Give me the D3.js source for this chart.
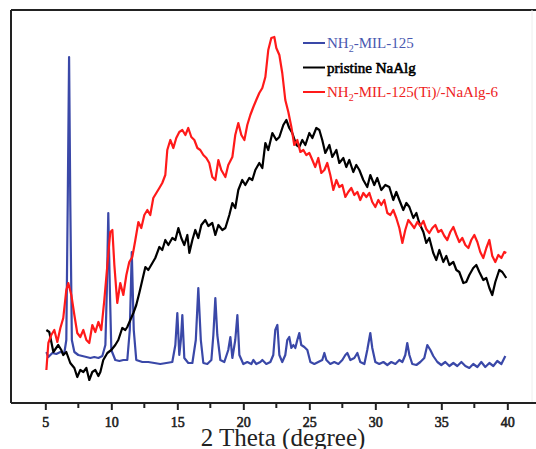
<!DOCTYPE html>
<html>
<head>
<meta charset="utf-8">
<script src="https://cdn.jsdelivr.net/npm/d3@7"></script>
<style>
    body { margin: 0; background: #fff; }
    svg { display: block; }
</style>
</head>
<body>
<div id="chart"></div>
<script>
// 2 theta (degree), intensity (a.u.)
var mil125 = [
    [5.08,51],[5.23,46],[5.53,50],[5.83,49],[6.14,51],[6.44,50],[6.59,63],[6.70,203],[6.80,346],[6.89,203],
    [7.01,63],[7.20,51],[7.50,48],[7.80,47],[8.11,46],[8.41,45],[8.71,46],[9.02,45],[9.32,47],[9.55,58],
    [9.66,113],[9.77,190],[9.89,113],[10.00,53],[10.30,43],[10.61,42],[10.91,43],[11.21,43],[11.40,73],[11.55,151],
    [11.70,73],[11.89,43],[12.35,41],[12.80,41],[13.26,40],[13.71,39],[14.17,40],[14.62,41],[14.85,58],[15.00,90],
    [15.15,48],[15.27,63],[15.38,88],[15.53,45],[15.83,40],[16.14,40],[16.40,63],[16.59,115],[16.78,63],[16.97,40],
    [17.27,39],[17.58,43],[17.73,68],[17.88,105],[18.03,68],[18.26,43],[18.56,41],[18.86,53],[19.02,66],[19.17,45],
    [19.39,63],[19.55,88],[19.70,48],[20.00,39],[20.30,41],[20.61,39],[20.76,43],[20.98,39],[21.29,41],[21.44,43],
    [21.74,39],[22.05,41],[22.27,48],[22.42,73],[22.58,78],[22.73,48],[22.95,41],[23.18,48],[23.33,63],[23.48,66],
    [23.64,55],[23.79,58],[23.94,55],[24.09,63],[24.24,70],[24.39,58],[24.62,56],[24.85,53],[25.08,41],[25.38,39],
    [25.68,41],[25.98,43],[26.14,50],[26.29,43],[26.59,39],[26.89,41],[27.20,39],[27.50,43],[27.73,48],[27.88,50],
    [28.11,43],[28.41,45],[28.64,50],[28.86,41],[29.17,39],[29.39,53],[29.62,70],[29.77,55],[30.00,41],[30.30,39],
    [30.61,41],[30.91,38],[31.21,41],[31.52,39],[31.82,43],[32.05,41],[32.27,48],[32.42,60],[32.58,48],[32.80,39],
    [33.11,38],[33.41,41],[33.71,45],[33.94,58],[34.17,53],[34.39,47],[34.70,41],[35.00,38],[35.30,41],[35.61,37],
    [35.91,40],[36.21,37],[36.52,41],[36.82,37],[37.12,35],[37.42,39],[37.73,36],[38.03,41],[38.33,36],[38.64,40],
    [38.94,37],[39.24,42],[39.55,39],[39.85,47]
];

var naalg = [
    [5.08,73],[5.30,71],[5.61,51],[5.98,58],[6.21,53],[6.36,48],[6.59,51],[6.89,40],[7.20,35],[7.42,26],
    [7.65,33],[7.88,31],[8.11,35],[8.33,23],[8.56,31],[8.79,33],[9.02,27],[9.17,31],[9.39,43],[9.70,50],
    [10.00,53],[10.30,58],[10.53,63],[10.83,75],[11.06,73],[11.21,76],[11.44,83],[11.67,90],[11.89,98],[12.12,110],
    [12.35,123],[12.58,136],[12.80,133],[13.11,140],[13.33,145],[13.64,156],[13.86,153],[14.09,163],[14.32,158],[14.62,165],
    [14.85,163],[15.08,175],[15.30,165],[15.53,158],[15.76,168],[15.91,150],[16.14,163],[16.36,173],[16.59,165],[16.82,178],
    [17.12,183],[17.35,177],[17.65,180],[17.88,168],[18.11,178],[18.41,173],[18.64,175],[18.94,188],[19.17,200],[19.39,195],
    [19.62,213],[19.92,223],[20.15,218],[20.45,225],[20.68,223],[20.91,233],[21.21,240],[21.44,235],[21.67,260],[21.89,253],
    [22.20,270],[22.50,263],[22.73,266],[23.03,278],[23.26,283],[23.48,275],[23.71,270],[24.02,258],[24.24,256],[24.47,263],
    [24.70,258],[25.00,270],[25.23,265],[25.53,275],[25.76,273],[25.98,263],[26.21,250],[26.52,258],[26.74,246],[27.05,253],
    [27.27,240],[27.58,245],[27.80,236],[28.03,243],[28.33,231],[28.56,238],[28.79,233],[29.09,223],[29.39,216],[29.62,228],
    [29.92,218],[30.15,225],[30.45,213],[30.76,218],[31.06,216],[31.36,203],[31.59,211],[31.82,203],[32.12,193],[32.35,200],
    [32.58,196],[32.88,185],[33.11,190],[33.33,180],[33.64,171],[33.86,160],[34.09,165],[34.39,150],[34.62,143],[34.85,153],
    [35.15,141],[35.38,147],[35.61,138],[35.91,141],[36.14,133],[36.36,131],[36.67,120],[36.89,121],[37.12,128],[37.42,135],
    [37.65,138],[37.88,131],[38.18,123],[38.41,125],[38.64,115],[38.86,108],[39.09,121],[39.39,133],[39.62,131],[39.92,125]
];

var composite = [
    [5.08,33],[5.23,60],[5.45,68],[5.68,73],[5.91,61],[6.14,75],[6.36,85],[6.59,113],[6.74,120],[6.97,108],
    [7.20,88],[7.42,70],[7.65,66],[7.88,73],[8.11,63],[8.33,60],[8.56,78],[8.79,71],[9.02,81],[9.24,73],
    [9.47,103],[9.70,138],[9.92,171],[10.08,173],[10.23,138],[10.45,100],[10.68,120],[10.91,108],[11.14,128],[11.36,141],
    [11.59,146],[11.82,163],[12.05,181],[12.27,175],[12.50,188],[12.73,193],[12.95,188],[13.18,205],[13.41,210],[13.64,215],
    [13.86,220],[14.09,228],[14.24,253],[14.47,263],[14.70,255],[14.92,265],[15.15,271],[15.38,273],[15.61,268],[15.83,275],
    [16.06,266],[16.29,263],[16.52,255],[16.74,253],[16.97,248],[17.20,245],[17.42,240],[17.65,226],[17.88,223],[18.11,243],
    [18.33,233],[18.64,226],[18.86,238],[19.17,246],[19.39,268],[19.62,280],[19.85,268],[20.08,263],[20.30,278],[20.53,288],
    [20.76,296],[20.98,303],[21.21,310],[21.44,315],[21.67,326],[21.89,353],[22.12,365],[22.35,366],[22.50,355],[22.73,348],
    [22.95,330],[23.18,303],[23.41,291],[23.64,276],[23.86,258],[24.09,263],[24.32,251],[24.55,253],[24.77,248],[25.00,250],
    [25.23,243],[25.45,236],[25.68,245],[25.91,230],[26.14,233],[26.36,240],[26.59,228],[26.82,213],[27.05,223],[27.27,216],
    [27.50,218],[27.73,206],[27.95,211],[28.18,215],[28.41,208],[28.64,211],[28.86,203],[29.09,210],[29.32,206],[29.55,210],
    [29.77,201],[30.00,196],[30.23,203],[30.45,198],[30.68,203],[30.91,190],[31.14,188],[31.36,193],[31.59,185],[31.82,175],
    [32.05,160],[32.27,173],[32.50,183],[32.73,179],[32.95,175],[33.18,181],[33.41,177],[33.64,182],[33.86,174],[34.09,170],
    [34.32,175],[34.55,178],[34.77,171],[35.00,173],[35.23,167],[35.45,163],[35.68,171],[35.91,176],[36.14,168],[36.36,161],
    [36.59,165],[36.82,158],[37.05,155],[37.27,163],[37.50,168],[37.73,161],[37.95,151],[38.18,145],[38.41,155],[38.64,163],
    [38.86,147],[39.09,141],[39.32,148],[39.55,145],[39.77,151],[39.92,150]
];

var xTicks = [5, 10, 15, 20, 25, 30, 35, 40];
var xMinorTicks = [7.5, 12.5, 17.5, 22.5, 27.5, 32.5, 37.5];

var series = [
    {name: "NH2-MIL-125", sub: "2", pre: "NH", post: "-MIL-125", values: mil125, color: "#3a48a8", text: "#4a58b0", bold: false},
    {name: "pristine NaAlg", values: naalg, color: "#000000", text: "#000000", bold: true},
    {name: "NH2-MIL-125(Ti)/-NaAlg-6", sub: "2", pre: "NH", post: "-MIL-125(Ti)/-NaAlg-6", values: composite, color: "#ff1a1a", text: "#ee2222", bold: false}
];

var serif = "'Liberation Serif', 'Times New Roman', serif";

var width = 536, height = 449;
var margin = {left: 11, top: 10, right: 0, bottom: 46};

var svg = d3.select("#chart").append("svg")
    .attr("width", width)
    .attr("height", height);

var x = d3.scaleLinear().domain([2.4, 42.4]).range([margin.left, margin.left + 528]);
var y = d3.scaleLinear().domain([0, 393]).range([height - margin.bottom, margin.top]);

var axisY = height - margin.bottom;

// frame
svg.append("line")
    .attr("x1", margin.left).attr("x2", margin.left)
    .attr("y1", margin.top).attr("y2", axisY)
    .attr("stroke", "#222").attr("stroke-width", 2);
svg.append("line")
    .attr("x1", margin.left).attr("x2", width)
    .attr("y1", margin.top).attr("y2", margin.top)
    .attr("stroke", "#222").attr("stroke-width", 2);
svg.append("line")
    .attr("x1", 532).attr("x2", 532)
    .attr("y1", margin.top).attr("y2", axisY)
    .attr("stroke", "#eee").attr("stroke-width", 1);

// curves
var line = d3.line()
    .x(d => x(d[0]))
    .y(d => y(d[1]));

svg.selectAll("path.curve")
    .data(series)
    .join("path")
    .attr("class", "curve")
    .attr("d", d => line(d.values))
    .attr("fill", "none")
    .attr("stroke", d => d.color)
    .attr("stroke-width", 2.2)
    .attr("stroke-linejoin", "round");

// x axis
var xAxis = svg.append("g")
    .attr("transform", `translate(0,${axisY})`)
    .call(d3.axisBottom(x).tickValues(xTicks).tickSize(7).tickFormat(d3.format("d")));
xAxis.select(".domain").remove();
xAxis.selectAll(".tick line").attr("stroke", "#222").attr("stroke-width", 2);
// bold look: regular face plus a thin stroke
xAxis.selectAll(".tick text")
    .attr("y", 14)
    .attr("font-family", serif)
    .attr("font-size", 14)
    .attr("fill", "#222")
    .attr("stroke", "#222")
    .attr("stroke-width", 0.6);

svg.append("g")
    .attr("transform", `translate(0,${axisY})`)
    .selectAll("line")
    .data(xMinorTicks)
    .join("line")
    .attr("x1", d => x(d)).attr("x2", d => x(d))
    .attr("y1", 0).attr("y2", 5)
    .attr("stroke", "#222").attr("stroke-width", 2);

svg.append("line")
    .attr("x1", margin.left).attr("x2", width)
    .attr("y1", axisY).attr("y2", axisY)
    .attr("stroke", "#222").attr("stroke-width", 2);

svg.append("text")
    .attr("x", 283)
    .attr("y", 446)
    .attr("text-anchor", "middle")
    .attr("font-family", serif)
    .attr("font-size", 25)
    .attr("fill", "#222")
    .text("2 Theta (degree)");

// legend
var legend = svg.append("g").attr("transform", "translate(303,43)");
var rows = legend.selectAll("g")
    .data(series)
    .join("g")
    .attr("transform", (d, i) => `translate(0,${i * 24.5})`);

rows.append("line")
    .attr("x1", 0).attr("x2", 22)
    .attr("y1", 0).attr("y2", 0)
    .attr("stroke", d => d.color)
    .attr("stroke-width", 2);

rows.each(function (d) {
    var t = d3.select(this).append("text")
        .attr("x", 24)
        .attr("y", 5)
        .attr("font-family", serif)
        .attr("font-size", 15)
        .attr("fill", d.text);
    if (d.bold) {
        t.attr("stroke", d.text).attr("stroke-width", 0.6);
    }
    if (d.sub) {
        t.append("tspan").text(d.pre);
        t.append("tspan").attr("font-size", 10).attr("dy", 4).text(d.sub);
        t.append("tspan").attr("dy", -4).text(d.post);
    } else {
        t.text(d.name);
    }
});
</script>
</body>
</html>
